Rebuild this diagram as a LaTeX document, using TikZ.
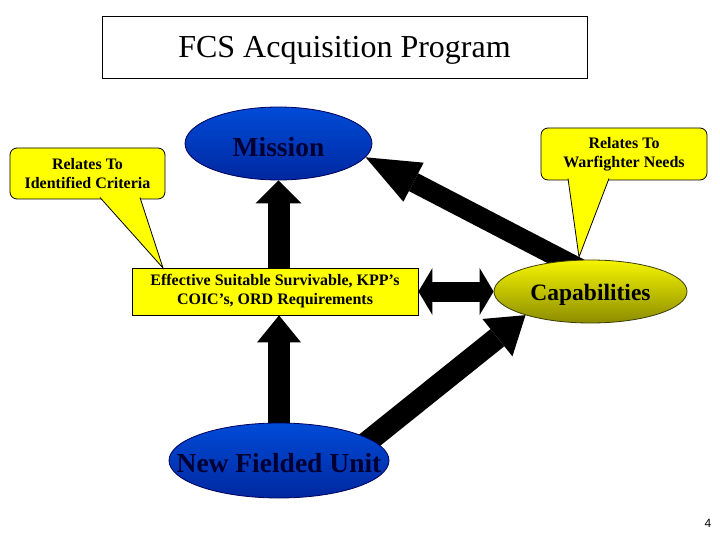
\documentclass[tikz,border=0pt]{standalone}
\usepackage{fontspec}
\setmainfont{Liberation Serif}
\newfontfamily\pagenumfont{Liberation Sans}
\usetikzlibrary{shapes.geometric,arrows.meta,calc,backgrounds}
\definecolor{navytext}{RGB}{0,0,50}
\definecolor{blueTop}{RGB}{0,75,215}
\definecolor{blueMid}{RGB}{0,110,255}
\definecolor{blueBot}{RGB}{0,40,160}
\definecolor{blueEdge}{RGB}{0,0,90}
\definecolor{capTop}{RGB}{245,245,0}
\definecolor{capMid}{RGB}{255,255,0}
\definecolor{capBot}{RGB}{140,140,0}
\definecolor{capEdge}{RGB}{60,60,0}
\definecolor{calloutYellow}{RGB}{255,255,0}
\tikzset{
  blueell/.style={ellipse, draw=blueEdge, line width=0.8pt, top color=blueTop,
    middle color=blueMid, bottom color=blueBot, inner sep=0pt, text=navytext,
    font=\bfseries\fontsize{27.5}{30}\selectfont, text depth=0pt},
  capell/.style={ellipse, draw=capEdge, line width=0.8pt, top color=capTop,
    middle color=capMid, bottom color=capBot, inner sep=0pt, text=black,
    font=\bfseries\fontsize{23.5}{26}\selectfont, text depth=0pt},
  yelbox/.style={rectangle, draw=black, line width=0.8pt, fill=calloutYellow,
    align=center, inner sep=0pt, font=\bfseries\fontsize{16}{19}\selectfont},
  callbox/.style={yelbox, rounded corners=7pt},
  pointer/.style={draw=black, line width=0.8pt, fill=calloutYellow},
  blockline/.style={draw=black, line width=#1}
}
\begin{document}
\begin{tikzpicture}[x=1pt,y=-1pt]
\useasboundingbox (0,0) rectangle (720,540);
% title
\node[draw=black, line width=0.8pt, minimum width=485pt, minimum height=62pt,
  text height=22pt, text depth=0pt,
  font=\fontsize{32}{36}\selectfont] (title) at (344.5,47) {FCS Acquisition Program};
% main nodes
\node[blueell, minimum width=187pt, minimum height=73pt, text height=26pt] (mission) at (278.5,143.5) {\makebox[0pt]{Mission}};
\node[yelbox, minimum width=286pt, minimum height=47pt] (ord) at (275,291.5)
  {Effective Suitable Survivable, KPP’s\\COIC’s, ORD Requirements};
\node[capell, minimum width=193pt, minimum height=63pt, text height=17pt] (cap) at (590.5,291.5) {\makebox[0pt]{Capabilities}};
\node[blueell, minimum width=220pt, minimum height=75pt, text height=23pt] (nfu) at (279,460.5) {\makebox[0pt]{New Fielded Unit}};
% callouts
\node[callbox, minimum width=155pt, minimum height=51pt] (lcall) at (87.5,173.5) {Relates To\\Identified Criteria};
\coordinate (ltip) at (163,268);
\draw[pointer] (100,197.5) -- (ltip) -- (140,197.5);
\node[callbox, minimum width=166pt, minimum height=52pt] (rcall) at (624,154) {Relates To\\Warfighter Needs};
\coordinate (rtip) at (579,257);
\draw[pointer] (568,178.5) -- (rtip) -- (609,178.5);
% page number
\node[font=\pagenumfont\fontsize{12}{14}\selectfont] (pnum) at (708,523) {4};
% connectors
\begin{scope}[on background layer]
\fill[white] (0,0) rectangle (720,540);
\draw[blockline=22pt, -{Triangle[width=46pt,length=23pt,line width=0pt]}]
  (ord.center -| mission.south) -- (mission.south);
\draw[blockline=22pt, -{Triangle[width=44pt,length=27pt,line width=0pt]}]
  (nfu.center) -- (ord.south -| nfu.center);
\draw[blockline=20pt, {Triangle[width=47pt,length=14pt,line width=0pt]}-{Triangle[width=47pt,length=14pt,line width=0pt]}]
  (ord.east) -- (cap.west);
\draw[blockline=22pt, -{Triangle[width=48pt,length=36pt,line width=0pt]}]
  ($(cap.200)!1.1!(nfu.13)$) -- (cap.200);
\draw[blockline=20pt, -{Triangle[width=44pt,length=54pt,line width=0pt]}]
  ($(mission.351)!1.08!(cap.130)$) -- (mission.351);
\end{scope}
\end{tikzpicture}
\end{document}
